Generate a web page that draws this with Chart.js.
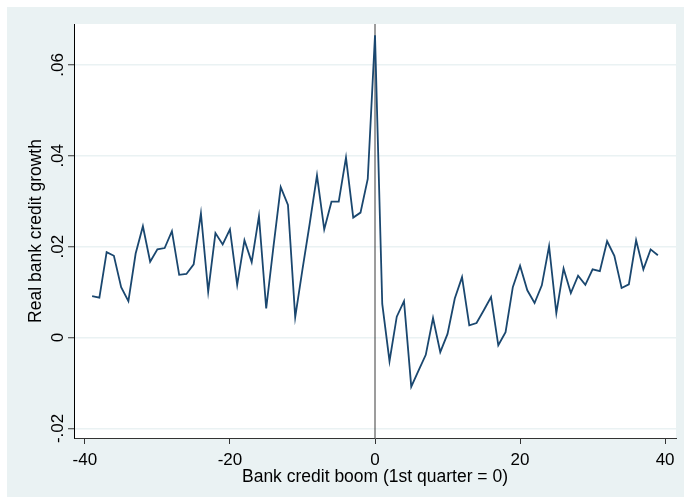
<!DOCTYPE html>
<html>
<head>
<meta charset="utf-8">
<title>Real bank credit growth around bank credit booms</title>
<script src="https://cdn.jsdelivr.net/npm/chart.js@4"></script>
<style>
  html, body { margin: 0; padding: 0; background: #ffffff; }
  #wrap { width: 684px; height: 497px; position: relative; }
</style>
</head>
<body>
<div id="wrap"><canvas id="chart" width="684" height="497"></canvas></div>
<script>
// Quarters relative to the first quarter of a bank credit boom
const quarters = [
  -39, -38, -37, -36, -35, -34, -33, -32, -31, -30,
  -29, -28, -27, -26, -25, -24, -23, -22, -21, -20,
  -19, -18, -17, -16, -15, -14, -13, -12, -11, -10,
   -9,  -8,  -7,  -6,  -5,  -4,  -3,  -2,  -1,   0,
    1,   2,   3,   4,   5,   6,   7,   8,   9,  10,
   11,  12,  13,  14,  15,  16,  17,  18,  19,  20,
   21,  22,  23,  24,  25,  26,  27,  28,  29,  30,
   31,  32,  33,  34,  35,  36,  37,  38,  39
];

// Average real bank credit growth in each quarter
const creditGrowth = [
  0.0091, 0.0088, 0.0188, 0.0180, 0.0111, 0.0080, 0.0185, 0.0245, 0.0167, 0.0194,
  0.0197, 0.0234, 0.0138, 0.0140, 0.0161, 0.0273, 0.0101, 0.0230, 0.0205, 0.0238,
  0.0116, 0.0214, 0.0166, 0.0267, 0.0064, 0.0200, 0.0331, 0.0292, 0.0045, 0.0150,
  0.0251, 0.0357, 0.0238, 0.0299, 0.0299, 0.0396, 0.0264, 0.0275, 0.0349, 0.0665,
  0.0074, -0.0052, 0.0046, 0.0080, -0.0108, -0.0073, -0.0038, 0.0043, -0.0032, 0.0008,
  0.0086, 0.0133, 0.0027, 0.0032, 0.0060, 0.0089, -0.0017, 0.0012, 0.0111, 0.0158,
  0.0104, 0.0076, 0.0115, 0.0201, 0.0054, 0.0152, 0.0098, 0.0136, 0.0116, 0.0150,
  0.0146, 0.0212, 0.0180, 0.0109, 0.0117, 0.0214, 0.0150, 0.0194, 0.0181
];

// Axis ticks and labels
const xTicks = [-40, -20, 0, 20, 40];
const yTicks = [-0.02, 0, 0.02, 0.04, 0.06];
const yTickLabels = ['-.02', '0', '.02', '.04', '.06'];
const xTitle = 'Bank credit boom (1st quarter = 0)';
const yTitle = 'Real bank credit growth';

// Marker for the start of the boom
const boomStart = 0;

// Axis ranges
const xRange = [-41.5, 41.5];
const yRange = [-0.0221, 0.069];

const FONT = '"Liberation Sans", Arial, Helvetica, sans-serif';
const PANEL = '#eaf2f3';
const NAVY = '#1a476f';

const seriesPoints = quarters.map((q, i) => ({ x: q, y: creditGrowth[i] }));
const boomLine = [{ x: boomStart, y: yRange[0] }, { x: boomStart, y: yRange[1] }];

// Graph region, plot region, rotated y labels and axis titles
const framePlugin = {
  id: 'frame',
  beforeDraw(chart) {
    const { ctx, chartArea: a, width, height } = chart;
    ctx.save();
    ctx.fillStyle = '#ffffff';
    ctx.fillRect(0, 0, width, height);
    ctx.fillStyle = PANEL;
    ctx.fillRect(7, 7, width - 7, height - 7);
    ctx.fillStyle = '#ffffff';
    ctx.fillRect(a.left, a.top, a.right - a.left, a.bottom - a.top);
    ctx.restore();
  },
  afterDraw(chart) {
    const { ctx, chartArea: a } = chart;
    const yScale = chart.scales.y;
    ctx.save();
    ctx.fillStyle = '#000000';
    ctx.textAlign = 'center';
    ctx.textBaseline = 'alphabetic';

    // y tick labels, reading upward
    ctx.font = '17px ' + FONT;
    yTicks.forEach((v, i) => {
      const py = yScale.getPixelForValue(v);
      ctx.save();
      ctx.translate(a.left - 10.7, py);
      ctx.rotate(-Math.PI / 2);
      ctx.fillText(yTickLabels[i], 0, 0);
      ctx.restore();
    });

    // y axis title
    ctx.font = '17.5px ' + FONT;
    ctx.save();
    ctx.translate(a.left - 33.3, (a.top + a.bottom) / 2);
    ctx.rotate(-Math.PI / 2);
    ctx.fillText(yTitle, 0, 0);
    ctx.restore();

    // x axis title
    ctx.fillText(xTitle, (a.left + a.right) / 2, a.bottom + 43.7);
    ctx.restore();
  }
};

new Chart(document.getElementById('chart'), {
  type: 'line',
  data: {
    datasets: [
      {
        label: 'boom',
        data: boomLine,
        borderColor: '#3a3a3a',
        borderWidth: 1,
        pointRadius: 0,
        fill: false,
        order: 2
      },
      {
        label: 'growth',
        data: seriesPoints,
        borderColor: NAVY,
        borderWidth: 1.8,
        pointRadius: 0,
        tension: 0,
        fill: false,
        order: 1
      }
    ]
  },
  options: {
    responsive: false,
    devicePixelRatio: 1,
    animation: false,
    events: [],
    layout: { padding: { left: 0, top: 24, right: 8, bottom: 0 } },
    plugins: {
      legend: { display: false },
      tooltip: { enabled: false },
      title: { display: false }
    },
    scales: {
      x: {
        type: 'linear',
        min: xRange[0],
        max: xRange[1],
        afterFit(scale) { scale.height = 59; },
        afterBuildTicks(scale) { scale.ticks = xTicks.map(v => ({ value: v })); },
        grid: {
          display: true,
          drawOnChartArea: false,
          drawTicks: true,
          tickLength: 6,
          tickColor: '#333333',
          tickWidth: 1
        },
        border: { display: true, color: '#333333', width: 1 },
        ticks: {
          padding: 6,
          color: '#000000',
          font: { family: FONT, size: 17 },
          maxRotation: 0,
          minRotation: 0,
          callback: v => String(v)
        }
      },
      y: {
        type: 'linear',
        min: yRange[0],
        max: yRange[1],
        afterFit(scale) { scale.width = 74; },
        afterBuildTicks(scale) { scale.ticks = yTicks.map(v => ({ value: v })); },
        grid: {
          display: true,
          drawOnChartArea: true,
          color: PANEL,
          lineWidth: 1.5,
          drawTicks: true,
          tickLength: 6,
          tickColor: '#333333',
          tickWidth: 1
        },
        border: { display: true, color: '#000000', width: 1 },
        ticks: { display: false }
      }
    }
  },
  plugins: [framePlugin]
});
</script>
</body>
</html>
